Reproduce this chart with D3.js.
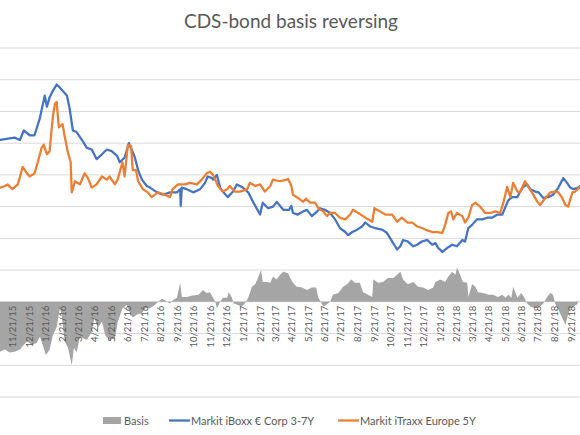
<!DOCTYPE html>
<html><head><meta charset="utf-8">
<script src="https://cdn.jsdelivr.net/npm/d3@7/dist/d3.min.js"></script>
<style>
html,body{margin:0;padding:0;background:#fff;}
svg{display:block;font-family:Lato,"Open Sans",sans-serif;}
</style></head>
<body>
<svg id="chart" width="580" height="435"></svg>
<script>
const title = "CDS-bond basis reversing";
const seriesNames = ["Basis", "Markit iBoxx € Corp 3-7Y", "Markit iTraxx Europe 5Y"];
const seriesColors = ["#A5A5A5", "#4472C4", "#ED7D31"];

const tickDates = ["2015-11-21","2015-12-21","2016-01-21","2016-02-21","2016-03-21","2016-04-21","2016-05-21","2016-06-21","2016-07-21","2016-08-21","2016-09-21","2016-10-21","2016-11-21","2016-12-21","2017-01-21","2017-02-21","2017-03-21","2017-04-21","2017-05-21","2017-06-21","2017-07-21","2017-08-21","2017-09-21","2017-10-21","2017-11-21","2017-12-21","2018-01-21","2018-02-21","2018-03-21","2018-04-21","2018-05-21","2018-06-21","2018-07-21","2018-08-21","2018-09-21"];
const tickLabels = ["11/21/15","12/21/15","1/21/16","2/21/16","3/21/16","4/21/16","5/21/16","6/21/16","7/21/16","8/21/16","9/21/16","10/21/16","11/21/16","12/21/16","1/21/17","2/21/17","3/21/17","4/21/17","5/21/17","6/21/17","7/21/17","8/21/17","9/21/17","10/21/17","11/21/17","12/21/17","1/21/18","2/21/18","3/21/18","4/21/18","5/21/18","6/21/18","7/21/18","8/21/18","9/21/18"];
const yTicks = [-60,-40,-20,0,20,40,60,80,100,120,140,160];

const iboxxDates = ["2015-10-28","2015-11-15","2015-11-24","2015-12-04","2015-12-11","2015-12-22","2015-12-31","2016-01-10","2016-01-19","2016-01-23","2016-01-28","2016-02-03","2016-02-10","2016-02-16","2016-02-21","2016-02-29","2016-03-05","2016-03-11","2016-03-18","2016-03-28","2016-04-06","2016-04-15","2016-04-24","2016-05-04","2016-05-13","2016-05-22","2016-06-01","2016-06-06","2016-06-15","2016-06-23","2016-06-28","2016-07-04","2016-07-10","2016-07-17","2016-07-26","2016-08-01","2016-08-14","2016-08-25","2016-09-07","2016-09-20","2016-09-26","2016-09-27","2016-09-29","2016-10-08","2016-10-20","2016-11-02","2016-11-11","2016-11-16","2016-11-24","2016-11-26","2016-12-03","2016-12-09","2016-12-14","2016-12-23","2017-01-02","2017-01-09","2017-01-20","2017-01-30","2017-02-08","2017-02-21","2017-02-26","2017-03-08","2017-03-17","2017-03-24","2017-04-05","2017-04-16","2017-04-20","2017-04-23","2017-05-02","2017-05-12","2017-05-19","2017-05-28","2017-06-07","2017-06-12","2017-06-21","2017-07-01","2017-07-10","2017-07-19","2017-07-29","2017-08-03","2017-08-11","2017-08-20","2017-08-29","2017-09-04","2017-09-13","2017-09-22","2017-10-05","2017-10-14","2017-10-24","2017-11-02","2017-11-08","2017-11-13","2017-11-22","2017-12-02","2017-12-09","2017-12-18","2017-12-28","2018-01-06","2018-01-12","2018-01-17","2018-01-25","2018-02-03","2018-02-12","2018-02-21","2018-03-03","2018-03-08","2018-03-14","2018-03-21","2018-03-30","2018-04-09","2018-04-18","2018-04-27","2018-05-07","2018-05-16","2018-05-22","2018-05-27","2018-06-03","2018-06-13","2018-06-18","2018-06-24","2018-07-01","2018-07-07","2018-07-16","2018-07-22","2018-07-31","2018-08-09","2018-08-18","2018-08-28","2018-09-06","2018-09-13","2018-09-19","2018-09-25","2018-10-04","2018-10-07"];
const iboxxValues = [102,103,103.5,102,108,105,105,116,130,123,129,133,137,135,133,130,122,108,107,102,97,96,90,93,96,95,92,88,91,100,96,91,83,77,73,72,69,67.5,69,69,71,60.5,72,71,69,71,75,79,78,77,80,72,69.5,66,69.5,74,72,69,63,55,62.5,59,60,63,58,58,60.5,56,55,57,58,54,57,59,58,56,52,46.5,44,42,44,45.5,47.5,50,47.5,46.5,45.5,43.5,38,33,35,39,38,35,36,38,39,36,37,34,31.5,34,36,35,39,38,46.5,48.5,52,52,53,53,55,55,60,64,66,66,69.5,72.5,74,71,69.5,69,65.5,66,67.5,72,78,75,72,71,72,73];

const itraxxDates = ["2015-10-28","2015-11-06","2015-11-11","2015-11-20","2015-11-30","2015-12-09","2015-12-17","2015-12-22","2015-12-31","2016-01-06","2016-01-13","2016-01-17","2016-01-23","2016-01-28","2016-02-03","2016-02-07","2016-02-10","2016-02-14","2016-02-21","2016-02-25","2016-03-02","2016-03-07","2016-03-09","2016-03-15","2016-03-24","2016-04-02","2016-04-08","2016-04-15","2016-04-24","2016-05-04","2016-05-13","2016-05-18","2016-05-28","2016-06-02","2016-06-11","2016-06-15","2016-06-21","2016-06-27","2016-06-30","2016-07-06","2016-07-10","2016-07-19","2016-07-28","2016-08-04","2016-08-16","2016-08-29","2016-09-07","2016-09-12","2016-09-22","2016-10-05","2016-10-14","2016-10-27","2016-11-05","2016-11-14","2016-11-20","2016-11-26","2016-12-05","2016-12-14","2016-12-22","2016-12-27","2017-01-05","2017-01-15","2017-01-28","2017-02-02","2017-02-12","2017-02-21","2017-03-02","2017-03-12","2017-03-17","2017-03-30","2017-04-12","2017-04-14","2017-04-20","2017-04-23","2017-05-02","2017-05-12","2017-05-17","2017-05-25","2017-06-03","2017-06-09","2017-06-18","2017-06-25","2017-07-01","2017-07-10","2017-07-19","2017-07-29","2017-08-07","2017-08-12","2017-08-22","2017-08-31","2017-09-09","2017-09-17","2017-09-21","2017-10-01","2017-10-11","2017-10-24","2017-11-02","2017-11-11","2017-11-21","2017-11-30","2017-12-09","2017-12-18","2017-12-28","2018-01-06","2018-01-15","2018-01-25","2018-01-30","2018-02-05","2018-02-10","2018-02-14","2018-02-21","2018-03-03","2018-03-08","2018-03-14","2018-03-21","2018-03-27","2018-04-05","2018-04-14","2018-04-24","2018-05-03","2018-05-12","2018-05-18","2018-05-25","2018-05-31","2018-06-05","2018-06-13","2018-06-18","2018-06-27","2018-07-03","2018-07-10","2018-07-20","2018-07-25","2018-08-04","2018-08-13","2018-08-22","2018-08-28","2018-09-04","2018-09-10","2018-09-15","2018-09-23","2018-09-28","2018-10-07"];
const itraxxValues = [72,73,74,71,74,85,81,79,81,88,97,99,93,95,117,125,126,110,112,104,94,88,69,76,74,81,78,72,74,79,77,79,74,77,88,79,99,98,83,83,76,71,69,66,69,67.5,66,71,74,74,75,74,77,81,82,80,73,69.5,71,73,69.5,69.5,71,75,73,74,69.5,73,77,76,77,77.5,73,67.5,65.5,63,65,62.5,62.5,59,57,54,56,56,53,52,55,58,56,54,52,50.5,59,57,55,55,50.5,53,50,50,47.5,46.5,45,44,44,43.5,48.5,56,57,52,56,54,50,53,61,62.5,60,56,56,57,56,62.5,72.5,66,75,69.5,69,76,72.5,69,63,61,65.5,69,69.5,69,65.5,61,60,69,69.5,72.5];

const basisDates = ["2015-10-28","2015-11-06","2015-11-15","2015-11-24","2015-12-04","2015-12-09","2015-12-17","2015-12-26","2016-01-04","2016-01-10","2016-01-15","2016-01-21","2016-01-28","2016-02-03","2016-02-10","2016-02-16","2016-02-19","2016-02-25","2016-03-02","2016-03-09","2016-03-13","2016-03-18","2016-03-24","2016-03-30","2016-04-06","2016-04-15","2016-04-20","2016-04-26","2016-05-04","2016-05-10","2016-05-18","2016-05-28","2016-06-02","2016-06-11","2016-06-19","2016-06-25","2016-06-30","2016-07-08","2016-07-17","2016-07-23","2016-08-01","2016-08-10","2016-08-16","2016-08-23","2016-08-29","2016-09-07","2016-09-12","2016-09-20","2016-09-26","2016-09-29","2016-10-08","2016-10-19","2016-10-30","2016-11-07","2016-11-14","2016-11-20","2016-11-26","2016-11-30","2016-12-03","2016-12-09","2016-12-14","2016-12-22","2016-12-25","2016-12-31","2017-01-03","2017-01-11","2017-01-18","2017-01-24","2017-01-30","2017-02-06","2017-02-12","2017-02-17","2017-02-23","2017-02-26","2017-03-06","2017-03-12","2017-03-17","2017-03-24","2017-03-30","2017-04-05","2017-04-14","2017-04-18","2017-04-23","2017-04-30","2017-05-10","2017-05-19","2017-05-28","2017-06-05","2017-06-09","2017-06-14","2017-06-18","2017-06-25","2017-07-01","2017-07-06","2017-07-16","2017-07-25","2017-08-01","2017-08-09","2017-08-16","2017-08-25","2017-08-31","2017-09-09","2017-09-17","2017-09-19","2017-09-28","2017-10-07","2017-10-16","2017-10-26","2017-11-02","2017-11-08","2017-11-13","2017-11-22","2017-12-02","2017-12-11","2017-12-20","2017-12-30","2018-01-08","2018-01-12","2018-01-21","2018-01-30","2018-02-05","2018-02-12","2018-02-18","2018-02-21","2018-02-27","2018-03-04","2018-03-12","2018-03-14","2018-03-21","2018-03-27","2018-04-01","2018-04-11","2018-04-20","2018-04-29","2018-05-08","2018-05-16","2018-05-22","2018-05-27","2018-06-02","2018-06-05","2018-06-13","2018-06-20","2018-06-26","2018-07-01","2018-07-07","2018-07-16","2018-07-25","2018-07-31","2018-08-07","2018-08-13","2018-08-18","2018-08-22","2018-08-28","2018-09-04","2018-09-10","2018-09-15","2018-09-19","2018-09-25","2018-10-02","2018-10-05"];
const basisValues = [-31.5,-30,-32,-31.5,-30,-28,-25,-27,-26,-22,-27,-33.5,-30,-21,-16,-4,-8,-25,-29,-40,-29,-32,-22,-23,-24,-19,-10,-16.5,-12.5,-21,-24,-23,-13,-4,-2,-7,-10,-8,-7,-4,-4,-2,0,2,1,-1,1,2.5,12,3,3,4,4.5,7.5,5.5,6,2.5,0,-4,0,2.5,2.5,6,2.5,-1,-2,-3,-1,2.5,9.5,11,15,20,12.5,12.5,12,16,14,17,19,18,15,12,9.5,9,7.5,9,9,2.5,0,-3,-1.5,0,4.5,5.5,9.5,11,14,12,12,6,4.5,3,14,12,12.5,15,15,17,19,14,11,12.5,9.5,9,7.5,9,12.5,14,12.5,16,19,17,21.5,17,12.5,12,3,11,9.5,6,5.5,4.5,4.5,3,4.5,2.5,4.5,2.5,9.5,2.5,5.5,2.5,-1,-3,-4,-3,-1,3,5.5,4.5,-1,-5,-10,-14.5,-8,-4,-3,-1.5,1];

const W = 580, H = 435;
const parse = d3.timeParse("%Y-%m-%d");
const zip = (ds, vs) => ds.map((d, i) => ({date: parse(d), value: vs[i]}));
const iboxx = zip(iboxxDates, iboxxValues);
const itraxx = zip(itraxxDates, itraxxValues);
const basis = zip(basisDates, basisValues);

const plot = {left: 0, right: 580, top: 48, bottom: 397};
const x = d3.scaleTime()
  .domain([parse("2015-10-28"), parse("2018-10-07")])
  .range([plot.left, plot.right]);
const y = d3.scaleLinear().domain([-60, 160]).range([plot.bottom, plot.top]);

const svg = d3.select("#chart");
svg.append("rect").attr("width", W).attr("height", H).attr("fill", "#fff");

svg.append("text").attr("x", 291).attr("y", 28).attr("text-anchor", "middle")
  .attr("font-size", 19).attr("fill", "#595959").text(title);

svg.append("g").selectAll("line").data(yTicks).join("line")
  .attr("x1", plot.left).attr("x2", plot.right)
  .attr("y1", d => y(d)).attr("y2", d => y(d))
  .attr("stroke", "#d9d9d9").attr("stroke-width", 1);

const area = d3.area().x(d => x(d.date)).y0(y(0)).y1(d => y(d.value));
svg.append("path").datum(basis).attr("d", area).attr("fill", seriesColors[0]);

const line = d3.line().x(d => x(d.date)).y(d => y(d.value));
[[iboxx, seriesColors[1]], [itraxx, seriesColors[2]]].forEach(([data, c]) => {
  svg.append("path").datum(data).attr("d", line).attr("fill", "none")
    .attr("stroke", c).attr("stroke-width", 2.25)
    .attr("stroke-linejoin", "round").attr("stroke-linecap", "round");
});

svg.append("g").selectAll("text").data(tickDates).join("text")
  .attr("transform", d => `translate(${x(parse(d)) + 3.5},${y(0) + 4}) rotate(-90)`)
  .attr("text-anchor", "end").attr("font-size", 9.5).attr("fill", "#595959")
  .text((d, i) => tickLabels[i]);

const leg = svg.append("g").attr("font-size", 11).attr("fill", "#595959");
leg.append("rect").attr("x", 103).attr("y", 417).attr("width", 18).attr("height", 7).attr("fill", seriesColors[0]);
leg.append("text").attr("x", 124).attr("y", 424.5).text(seriesNames[0]);
leg.append("line").attr("x1", 169).attr("x2", 190).attr("y1", 420.5).attr("y2", 420.5).attr("stroke", seriesColors[1]).attr("stroke-width", 2.25);
leg.append("text").attr("x", 191).attr("y", 424.5).text(seriesNames[1]);
leg.append("line").attr("x1", 338).attr("x2", 359).attr("y1", 420.5).attr("y2", 420.5).attr("stroke", seriesColors[2]).attr("stroke-width", 2.25);
leg.append("text").attr("x", 360).attr("y", 424.5).text(seriesNames[2]);
</script>
</body></html>
